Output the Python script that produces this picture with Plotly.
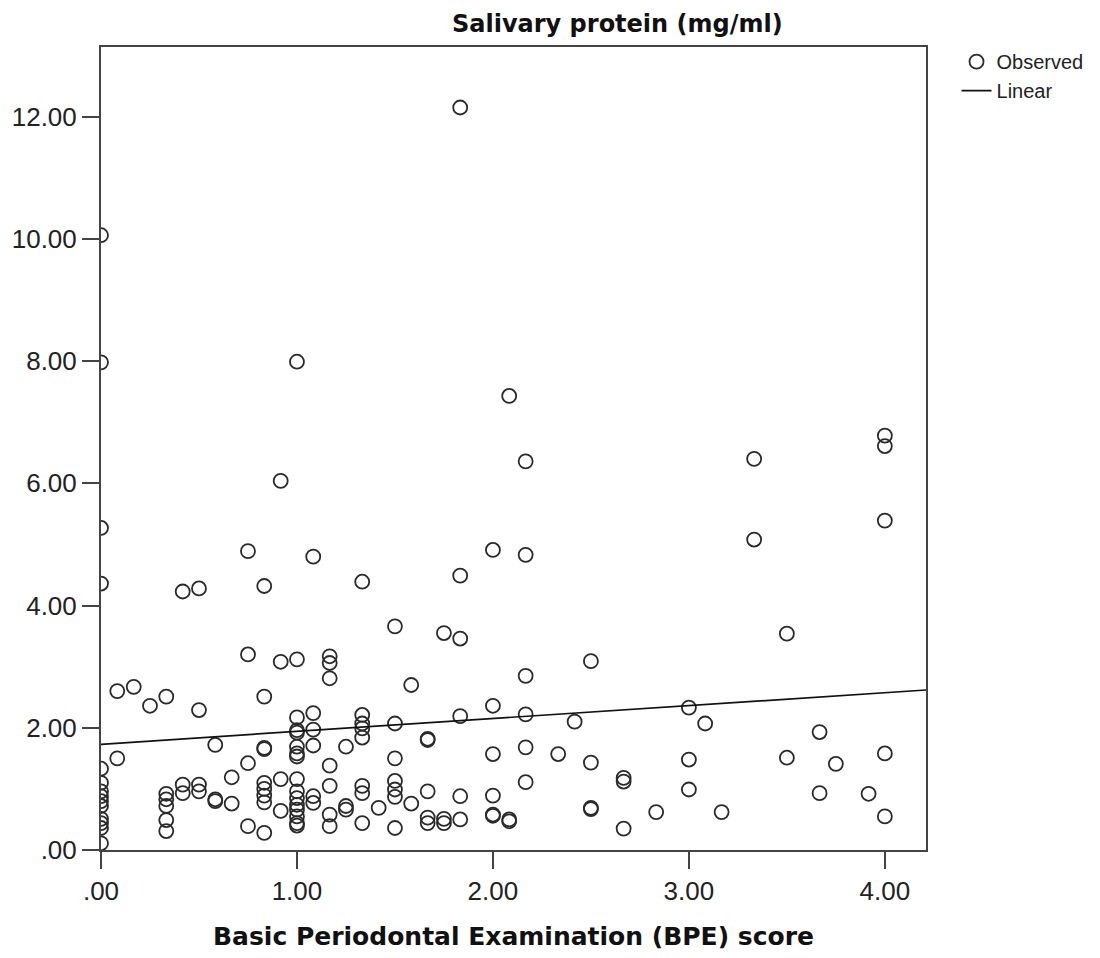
import plotly.graph_objects as go

# BPE score (x) and salivary protein mg/ml (y)
bpe_score = (
    [0.0] * 14
    + [0.083] * 2 + [0.167] + [0.25] + [0.333] * 6 + [0.417] * 3 + [0.5] * 4
    + [0.583] * 3 + [0.667] * 2 + [0.75] * 4 + [0.833] * 9 + [0.917] * 4
    + [1.0] * 16 + [1.083] * 6 + [1.167] * 7 + [1.25] * 3 + [1.333] * 8
    + [1.417] + [1.5] * 7 + [1.583] * 2 + [1.667] * 5 + [1.75] * 3
    + [1.833] * 6 + [2.0] * 6 + [2.083] * 3 + [2.167] * 6 + [2.333] + [2.417]
    + [2.5] * 4 + [2.667] * 3 + [2.833] + [3.0] * 3 + [3.083] + [3.167]
    + [3.333] * 2 + [3.5] * 2 + [3.667] * 2 + [3.75] + [3.917] + [4.0] * 5
)
salivary_protein = [
    # x = 0
    10.06, 7.98, 5.27, 4.36, 1.33, 1.10, 0.96, 0.88, 0.80, 0.72, 0.51, 0.44, 0.36, 0.11,
    2.60, 1.50,                      # 0.083
    2.67,                            # 0.167
    2.36,                            # 0.25
    2.51, 0.92, 0.83, 0.72, 0.49, 0.31,   # 0.333
    4.23, 1.07, 0.93,                # 0.417
    4.28, 2.29, 1.07, 0.96,          # 0.5
    1.72, 0.83, 0.80,                # 0.583
    1.19, 0.76,                      # 0.667
    4.89, 3.20, 1.42, 0.39,          # 0.75
    4.32, 2.51, 1.67, 1.65, 1.10, 1.00, 0.89, 0.78, 0.28,   # 0.833
    6.04, 3.08, 1.16, 0.64,          # 0.917
    7.99, 3.12, 2.17, 1.96, 1.92, 1.69, 1.58, 1.53, 1.16, 0.96, 0.85, 0.74,
    0.66, 0.55, 0.44, 0.40,          # 1.0
    4.80, 2.24, 1.97, 1.71, 0.88, 0.77,   # 1.083
    3.17, 3.06, 2.81, 1.38, 1.05, 0.58, 0.39,   # 1.167
    1.69, 0.72, 0.66,                # 1.25
    4.39, 2.21, 2.07, 1.99, 1.84, 1.05, 0.93, 0.44,   # 1.333
    0.69,                            # 1.417
    3.66, 2.07, 1.50, 1.13, 0.99, 0.87, 0.36,   # 1.5
    2.70, 0.76,                      # 1.583
    1.82, 1.80, 0.96, 0.53, 0.44,    # 1.667
    3.55, 0.51, 0.44,                # 1.75
    12.15, 4.49, 3.46, 2.19, 0.88, 0.50,   # 1.833
    4.91, 2.36, 1.57, 0.89, 0.58, 0.56,    # 2.0
    7.43, 0.50, 0.47,                # 2.083
    6.36, 4.83, 2.85, 2.22, 1.68, 1.11,    # 2.167
    1.57,                            # 2.333
    2.10,                            # 2.417
    3.09, 1.43, 0.69, 0.67,          # 2.5
    1.18, 1.12, 0.35,                # 2.667
    0.62,                            # 2.833
    2.33, 1.48, 0.99,                # 3.0
    2.07,                            # 3.083
    0.62,                            # 3.167
    6.40, 5.08,                      # 3.333
    3.54, 1.51,                      # 3.5
    1.93, 0.93,                      # 3.667
    1.41,                            # 3.75
    0.92,                            # 3.917
    6.78, 6.61, 5.39, 1.58, 0.55,    # 4.0
]

# Linear fit as drawn in the picture
linear_intercept = 1.73
linear_slope = 0.211

x_range = [0.0, 4.21]
y_range = [0.0, 13.14]

x_tickvals = [0, 1, 2, 3, 4]
x_ticktext = [".00", "1.00", "2.00", "3.00", "4.00"]
y_tickvals = [0, 2, 4, 6, 8, 10, 12]
y_ticktext = [".00", "2.00", "4.00", "6.00", "8.00", "10.00", "12.00"]

fit_x = x_range
fit_y = [linear_intercept + linear_slope * v for v in fit_x]

fig = go.Figure()
fig.add_trace(go.Scatter(
    x=bpe_score, y=salivary_protein, mode="markers", name="Observed",
    marker=dict(symbol="circle-open", size=14, color="#2a2a2a",
                line=dict(width=1.8, color="#2a2a2a")),
))
fig.add_trace(go.Scatter(
    x=fit_x, y=fit_y, mode="lines", name="Linear",
    line=dict(color="#111111", width=1.7),
))

axis_common = dict(
    showgrid=False, zeroline=False, showline=True, mirror=True,
    linecolor="#444444", linewidth=2,
    ticks="outside", ticklen=17, tickwidth=2, tickcolor="#444444",
    tickfont=dict(family="Liberation Sans, Arial, sans-serif", size=26, color="#222222"),
)

fig.update_layout(
    width=1100, height=958,
    margin=dict(l=99, r=170, t=47, b=104),
    paper_bgcolor="white", plot_bgcolor="white",
    showlegend=True,
    legend=dict(
        x=1.037, y=1.006, xanchor="left", yanchor="top",
        font=dict(family="Liberation Sans, Arial, sans-serif", size=20, color="#222222"),
        bgcolor="rgba(0,0,0,0)", borderwidth=0, tracegroupgap=0,
    ),
    xaxis=dict(
        range=x_range, tickvals=x_tickvals, ticktext=x_ticktext,
        title=dict(text="<b>Basic Periodontal Examination (BPE) score</b>",
                   font=dict(family="DejaVu Sans, sans-serif", size=25, color="#111111"),
                   standoff=22),
        **axis_common,
    ),
    yaxis=dict(
        range=y_range, tickvals=y_tickvals, ticktext=y_ticktext,
        **axis_common,
    ),
    annotations=[dict(
        text="<b>Salivary protein (mg/ml)</b>",
        xref="paper", yref="paper", x=0.6258, y=1.0,
        xanchor="center", yanchor="bottom", yshift=7, showarrow=False,
        font=dict(family="DejaVu Sans, sans-serif", size=24, color="#111111"),
    )],
)

fig.write_html("out.html")
